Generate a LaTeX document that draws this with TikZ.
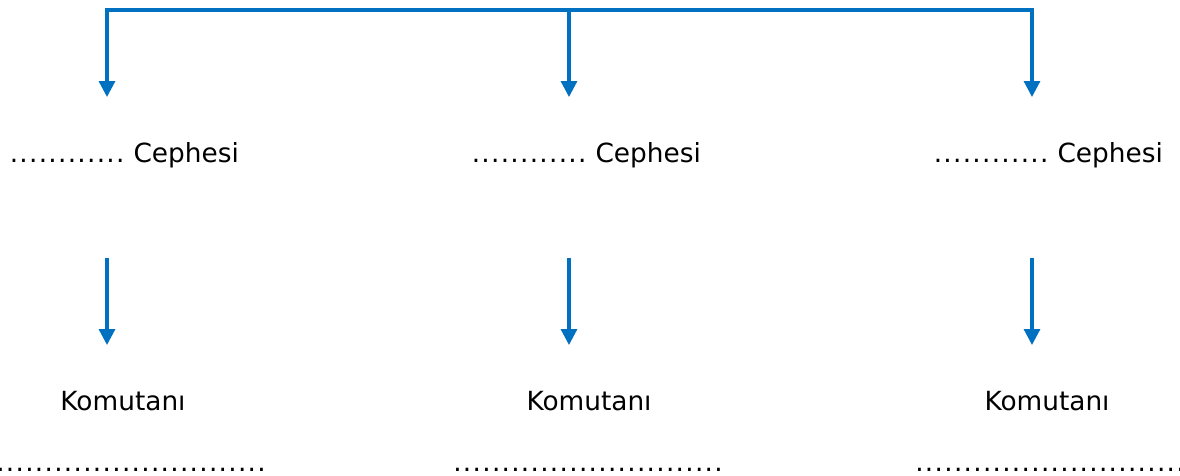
\documentclass[tikz,border=0pt]{standalone}
\usepackage{fontspec}
\setmainfont{DejaVu Sans}
\usepackage{xcolor}
\usepackage{tikz}
\usetikzlibrary{arrows.meta}
\definecolor{okmavi}{RGB}{0,112,192}
\newcommand{\noktalar}[1]{\foreach \i in {1,...,#1}{\makebox[5.5pt]{.}}}
\tikzset{
	ok/.style={okmavi,line width=1.8pt,-{Triangle[length=9pt,width=9pt]}},
	yazi/.style={anchor=base,inner sep=0pt,font=\fontsize{15}{18}\selectfont}
}

\begin{document}
\begin{tikzpicture}[x=0.2mm,y=-0.2mm]
	\useasboundingbox (0,0) rectangle (1180,475);
	% ust cizgi
	\coordinate (u1) at (107,10);
	\coordinate (u2) at (569,10);
	\coordinate (u3) at (1032,10);
	\coordinate (a1) at (107,97);
	\coordinate (a2) at (569,97);
	\coordinate (a3) at (1032,97);
	\draw[okmavi,line width=1.8pt,line cap=rect] (u1)--(u3);
	\draw[ok] (u1)--(a1);
	\draw[ok] (u2)--(a2);
	\draw[ok] (u3)--(a3);
	% cephe
	\node[yazi] (cep1) at (124,162) {\noktalar{12} Cephesi};
	\node[yazi] (cep2) at (586,162) {\noktalar{12} Cephesi};
	\node[yazi] (cep3) at (1048,162) {\noktalar{12} Cephesi};
	% alt oklar
	\coordinate (b1) at (107,258);
	\coordinate (b2) at (569,258);
	\coordinate (b3) at (1032,258);
	\coordinate (c1) at (107,345);
	\coordinate (c2) at (569,345);
	\coordinate (c3) at (1032,345);
	\draw[ok] (b1)--(c1);
	\draw[ok] (b2)--(c2);
	\draw[ok] (b3)--(c3);
	% komutan
	\node[yazi] (kom1) at (123,410) {Komutanı};
	\node[yazi] (kom2) at (589,410) {Komutanı};
	\node[yazi] (kom3) at (1047,410) {Komutanı};
	\node[yazi] (nok1) at (131,471) {\noktalar{28}};
	\node[yazi] (nok2) at (588,471) {\noktalar{28}};
	\node[yazi] (nok3) at (1050,471) {\noktalar{28}};
\end{tikzpicture}
\end{document}
